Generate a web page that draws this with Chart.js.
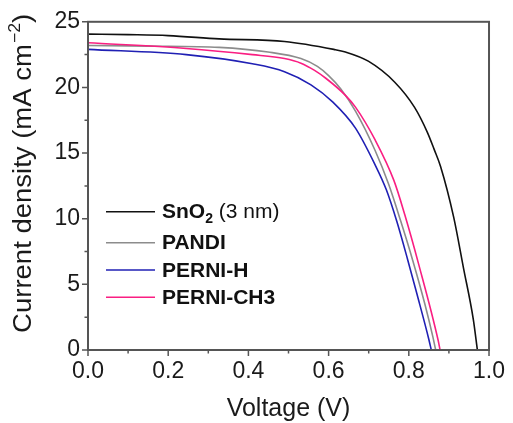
<!DOCTYPE html>
<html><head><meta charset="utf-8">
<script src="https://cdn.jsdelivr.net/npm/chart.js@4/dist/chart.umd.min.js"></script>
<style>html,body{margin:0;padding:0;background:#fff;}canvas{display:block;}</style>
</head><body>
<canvas id="c" width="513" height="423"></canvas>
<script>
// ---- data ----
const seriesNames = ['SnO2 (3 nm)', 'PANDI', 'PERNI-H', 'PERNI-CH3'];
const seriesColors = ['#111111', '#8c8c8c', '#2020b4', '#fa1e82'];

const vSnO2 = [0, 0.10, 0.20, 0.327, 0.49, 0.613, 0.642, 0.699, 0.765, 0.814, 0.846, 0.863, 0.879, 0.912, 0.936, 0.961, 0.971];
const jSnO2 = [24.06, 24.02, 23.95, 23.7, 23.5, 22.9, 22.7, 22.0, 20.4, 18.5, 16.6, 15.3, 14.0, 10.1, 6.3, 2.3, 0];

const vPANDI = [0, 0.15, 0.327, 0.449, 0.531, 0.572, 0.60, 0.63, 0.667, 0.716, 0.75, 0.78, 0.81, 0.84, 0.86, 0.867];
const jPANDI = [23.2, 23.15, 23.05, 22.7, 22.2, 21.6, 20.9, 19.9, 18.2, 15.2, 12.6, 9.8, 6.8, 3.5, 1.0, 0];

const vPERNIH = [0, 0.245, 0.41, 0.49, 0.556, 0.61, 0.667, 0.716, 0.744, 0.77, 0.797, 0.82, 0.85, 0.856];
const jPERNIH = [22.9, 22.5, 21.8, 21.2, 20.2, 18.9, 16.9, 14.1, 12.2, 9.8, 6.9, 4.3, 0.8, 0];

const vPERNICH3 = [0, 0.245, 0.41, 0.49, 0.531, 0.565, 0.593, 0.642, 0.667, 0.716, 0.763, 0.79, 0.824, 0.873, 0.878];
const jPERNICH3 = [23.4, 22.97, 22.5, 22.2, 21.85, 21.3, 20.7, 19.4, 18.5, 16.0, 12.9, 10.3, 6.6, 0.76, 0];

const xMajorTicks = [0, 0.2, 0.4, 0.6, 0.8, 1.0];
const xMinorTicks = [0.1, 0.3, 0.5, 0.7, 0.9];
const yMajorTicks = [0, 5, 10, 15, 20, 25];
const yMinorTicks = [2.5, 7.5, 12.5, 17.5, 22.5];
const xTitle = 'Voltage (V)';
const yTitleMain = 'Current density (mA cm';
const yTitleSup = '\u22122';
const yTitleEnd = ')';

// ---- build ----
function pts(v, j) { return v.map((x, i) => ({x: x, y: j[i]})); }
const allV = [vSnO2, vPANDI, vPERNIH, vPERNICH3];
const allJ = [jSnO2, jPANDI, jPERNIH, jPERNICH3];

const FONT = '"Liberation Sans", Arial, sans-serif';
const AXIS = '#555555';

const decor = {
  id: 'decor',
  afterDraw(chart) {
    const ctx = chart.ctx, a = chart.chartArea;
    const xs = chart.scales.x, ys = chart.scales.y;
    ctx.save();
    ctx.strokeStyle = AXIS;
    ctx.lineWidth = 2;
    ctx.strokeRect(a.left, a.top, a.right - a.left, a.bottom - a.top);
    ctx.lineWidth = 1.5;
    ctx.beginPath();
    xMajorTicks.forEach(v => { const p = xs.getPixelForValue(v); ctx.moveTo(p, a.bottom); ctx.lineTo(p, a.bottom + 6); });
    xMinorTicks.forEach(v => { const p = xs.getPixelForValue(v); ctx.moveTo(p, a.bottom); ctx.lineTo(p, a.bottom + 3.5); });
    yMajorTicks.forEach(v => { const p = ys.getPixelForValue(v); ctx.moveTo(a.left, p); ctx.lineTo(a.left - 6, p); });
    yMinorTicks.forEach(v => { const p = ys.getPixelForValue(v); ctx.moveTo(a.left, p); ctx.lineTo(a.left - 3.5, p); });
    ctx.stroke();

    // y title
    ctx.fillStyle = '#1a1a1a';
    ctx.translate(24, (a.top + a.bottom) / 2 - 12);
    ctx.rotate(-Math.PI / 2);
    ctx.scale(1.1, 1);
    ctx.textBaseline = 'middle';
    ctx.font = '25px ' + FONT;
    const w1 = ctx.measureText(yTitleMain).width;
    ctx.font = '16px ' + FONT;
    const w2 = ctx.measureText(yTitleSup).width;
    ctx.font = '25px ' + FONT;
    const w3 = ctx.measureText(yTitleEnd).width;
    let x0 = -(w1 + w2 + w3) / 2;
    ctx.textAlign = 'left';
    ctx.fillText(yTitleMain, x0, 0);
    ctx.font = '16px ' + FONT;
    ctx.fillText(yTitleSup, x0 + w1 + 1, -8);
    ctx.font = '25px ' + FONT;
    ctx.fillText(yTitleEnd, x0 + w1 + w2 + 1, 0);
    ctx.setTransform(1, 0, 0, 1, 0, 0);

    // legend
    const rows = [211.7, 242.7, 270, 297.3];
    const lx0 = 106, lx1 = 155, tx = 162;
    ctx.textBaseline = 'middle';
    ctx.textAlign = 'left';
    rows.forEach((ry, i) => {
      ctx.strokeStyle = seriesColors[i];
      ctx.lineWidth = 1.6;
      ctx.beginPath(); ctx.moveTo(lx0, ry); ctx.lineTo(lx1, ry); ctx.stroke();
      ctx.fillStyle = '#111';
      const ty = ry + 1;
      if (i === 0) {
        ctx.font = 'bold 21px ' + FONT;
        ctx.fillText('SnO', tx, ty);
        let w = ctx.measureText('SnO').width;
        ctx.font = 'bold 14px ' + FONT;
        ctx.fillText('2', tx + w, ty + 6);
        w += ctx.measureText('2').width;
        ctx.font = '21px ' + FONT;
        ctx.fillText(' (3 nm)', tx + w, ty);
      } else {
        ctx.font = 'bold 21px ' + FONT;
        ctx.fillText(seriesNames[i], tx, ty);
      }
    });
    ctx.restore();
  }
};

new Chart(document.getElementById('c'), {
  type: 'scatter',
  data: {
    datasets: seriesNames.map((n, i) => ({
      label: n,
      data: pts(allV[i], allJ[i]),
      showLine: true,
      borderColor: seriesColors[i],
      backgroundColor: seriesColors[i],
      borderWidth: 1.6,
      pointRadius: 0,
      cubicInterpolationMode: 'monotone',
      order: 3 - i
    }))
  },
  options: {
    responsive: false,
    devicePixelRatio: 1,
    animation: false,
    layout: { padding: { top: 21, right: 17, left: 0, bottom: 0 } },
    plugins: { legend: { display: false }, tooltip: { enabled: false } },
    scales: {
      x: {
        type: 'linear', min: 0, max: 1,
        afterBuildTicks: s => { s.ticks = xMajorTicks.map(v => ({value: v})); },
        afterFit: s => { s.height = 73; },
        ticks: { padding: 8, color: '#1a1a1a', font: { family: FONT, size: 23 }, callback: v => v.toFixed(1), maxRotation: 0 },
        grid: { display: false, drawTicks: false },
        border: { display: false },
        title: { display: true, text: xTitle, color: '#1a1a1a', font: { family: FONT, size: 25, lineHeight: 1 }, padding: { top: 0, bottom: 1.5 } }
      },
      y: {
        type: 'linear', min: 0, max: 25,
        afterBuildTicks: s => { s.ticks = yMajorTicks.map(v => ({value: v})); },
        afterFit: s => { s.width = 88; },
        ticks: { padding: 8, color: '#1a1a1a', font: { family: FONT, size: 23 }, callback: v => String(v) },
        grid: { display: false, drawTicks: false },
        border: { display: false }
      }
    }
  },
  plugins: [decor]
});
</script>
</body></html>
